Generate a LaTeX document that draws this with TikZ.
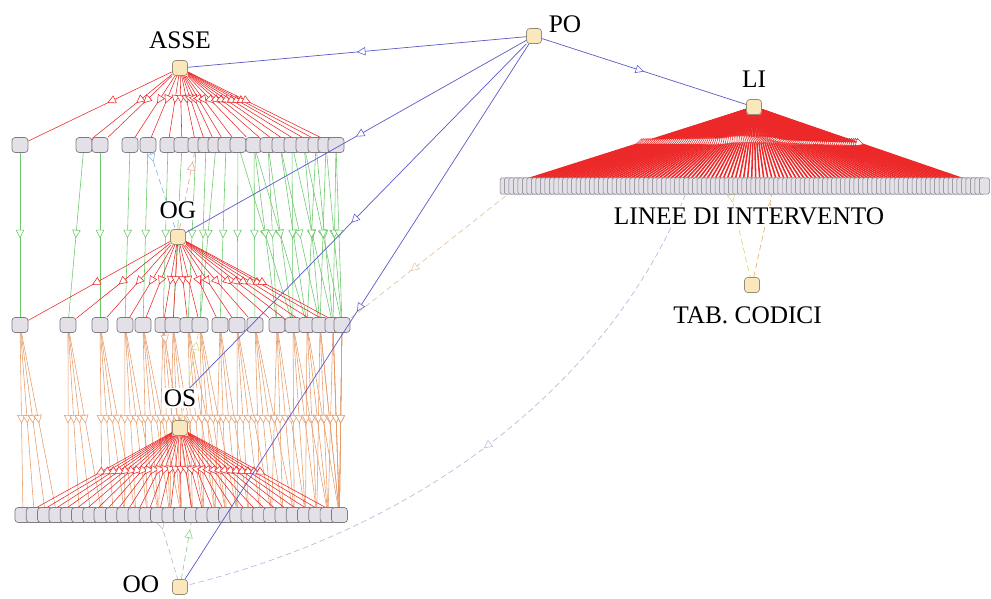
\documentclass[tikz,border=0pt]{standalone}
\usepackage{fontspec}
\setmainfont{Liberation Serif}
\usetikzlibrary{arrows.meta,positioning,decorations.markings}
\definecolor{EdgeBlue}{RGB}{90,90,200}
\definecolor{EdgeRed}{RGB}{236,40,40}
\definecolor{EdgeGreen}{RGB}{105,200,105}
\definecolor{EdgeOrange}{RGB}{230,155,105}
\definecolor{HubFill}{RGB}{250,232,188}
\definecolor{HubLine}{RGB}{150,140,120}
\definecolor{LeafFill}{RGB}{228,224,232}
\definecolor{LeafLine}{RGB}{125,122,130}
\definecolor{DashTan}{RGB}{225,200,160}
\definecolor{DashLav}{RGB}{200,180,220}
\definecolor{DashBlue}{RGB}{140,185,230}
\definecolor{DashSalmon}{RGB}{240,165,150}
\definecolor{DashGreen}{RGB}{140,210,140}
\definecolor{DashGray}{RGB}{190,190,190}
\definecolor{DashYellow}{RGB}{225,215,120}
\definecolor{DashOrange}{RGB}{240,175,110}
\pgfdeclarelayer{edges}
\pgfsetlayers{edges,main}

\begin{document}
\begin{tikzpicture}[
    x=0.025cm, y=-0.025cm,
    hub/.style={draw=HubLine, fill=HubFill, rounded corners=0.8mm,
      minimum size=3.75mm, inner sep=0pt, line width=0.5pt},
    leaf/.style={draw=LeafLine, fill=LeafFill, rounded corners=0.8mm,
      minimum width=4mm, minimum height=3.75mm, inner sep=0pt, line width=0.5pt},
    slim/.style={draw=LeafLine, fill=LeafFill, rounded corners=0.4mm,
      minimum width=2.5mm, minimum height=4.1mm, inner sep=0pt, line width=0.35pt},
    lbl/.style={fill=white, inner sep=1pt, font=\fontsize{18}{21}\selectfont},
    tip/.style={postaction={decorate}, decoration={markings, mark=at position #1 with
      {\arrow{Triangle[fill=white, line width=0.4pt, length=2.1mm, width=2.1mm]}}}},
    redge/.style={color=EdgeRed, line width=0.4pt},
    gedge/.style={color=EdgeGreen, line width=0.4pt},
    oedge/.style={color=EdgeOrange, line width=0.4pt},
    bedge/.style={color=EdgeBlue, line width=0.5pt},
    dsh/.style={line width=0.5pt, dash pattern=on 4pt off 2.5pt}
  ]
    \useasboundingbox (0,0) rectangle (991,598);

    \node[hub] (po) at (534,36) {};
    \node[hub] (asse) at (180,68) {};
    \node[hub] (li) at (754,107) {};
    \node[hub] (og) at (178,237) {};
    \node[hub] (os) at (180,428) {};
    \node[hub] (oo) at (180,587) {};
    \node[hub] (tab) at (752,285) {};

    \foreach \x [count=\i from 0] in {20,84,100,130,148,168,182,196,206,216,226,238,254,268,280,292,304,316,326,336}
      \node[leaf] (a\i) at (\x,145) {};
    \foreach \x [count=\i from 0] in {20,68,100,125,143,163,173,188,200,220,237,255,277,293,307,320,333,342}
      \node[leaf] (g\i) at (\x,325) {};
    \foreach \i in {0,...,28}
      \node[leaf] (s\i) at ({23+11.3*\i},515) {};
    \foreach \i in {0,...,107}
      \node[slim] (l\i) at ({505+4.48*\i},186) {};

    \begin{pgfonlayer}{edges}
      \foreach \i in {0,...,19}
        \draw[redge, tip=0.45] (asse) -- (a\i);
      \foreach \i/\j in {0/0,1/1,2/2,3/3,4/4,5/5,6/6,7/7,8/8,9/8,10/9,11/10,11/13,12/11,12/12,12/14,
          13/12,13/13,14/14,14/15,15/13,15/16,16/15,16/17,17/14,17/16,18/15,18/17,19/16,19/17}
        \draw[gedge, tip=0.52] (a\i) -- (g\j);
      \foreach \i in {0,...,17}
        \draw[redge, tip=0.55] (og) -- (g\i);
      \foreach \x [count=\k from 0] in {20,68,100,125,143,163,173,188,200,220,237,255,277,293,307,320,333,342}
        \foreach \d in {0,...,3} {
          \pgfmathtruncatemacro\j{min(28,round((\x-23)/11.3)+\d)}
          \draw[oedge, tip=0.52] (g\k) -- (s\j);
        }
      \foreach \i in {0,...,28}
        \draw[redge, tip=0.54] (os) -- (s\i);
      \foreach \i in {0,...,107}
        \draw[redge, line width=1.1pt, tip=0.47] (li) -- (l\i);

      \draw[dsh, color=DashBlue, tip=0.12] (a4) -- (og);
      \draw[dsh, color=DashSalmon, tip=0.88] (og) -- (a7);
      \draw[dsh, color=DashSalmon, tip=0.12] (g5) -- (os);
      \draw[dsh, color=DashYellow, tip=0.9] (os) -- (g8);
      \draw[dsh, color=DashGray, tip=0.12] (s12) -- (oo);
      \draw[dsh, color=DashGreen, tip=0.88] (oo) -- (s15);
      \draw[dsh, color=DashYellow, tip=0.1] (l50) -- (tab);
      \draw[dsh, color=DashOrange, tip=0.9] (tab) -- (l60);
      \draw[dsh, color=DashTan, tip=0.63] (l3) -- (g17);
      \draw[dsh, color=DashLav, tip=0.5] (l41) .. controls (620,360) and (450,520) .. (oo);
    \end{pgfonlayer}

    \node[lbl, above=2.4mm of asse] (tasse) {ASSE};
    \node[lbl, above right=-1.5mm and 1.3mm of po] (tpo) {PO};
    \node[lbl, above=2.4mm of li] (tli) {LI};
    \node[lbl, above=2.1mm of og] (tog) {OG};
    \node[lbl, above=3mm of os] (tos) {OS};
    \node[lbl, left=2.8mm of oo, yshift=0.6mm] (too) {OO};
    \node[lbl, below=3.1mm of tab, xshift=-1.1mm] (ttab) {TAB. CODICI};
    \node[lbl] (tlinee) at (749,216) {LINEE DI INTERVENTO};

    \draw[bedge, tip=0.5] (po) -- (asse);
    \draw[bedge, tip=0.5] (po) -- (li);
    \draw[bedge, tip=0.5] (po) -- (og);
    \draw[bedge, tip=0.52] (po) -- (tos);
    \draw[bedge, tip=0.5] (po) -- (oo);
  \end{tikzpicture}
\end{document}
